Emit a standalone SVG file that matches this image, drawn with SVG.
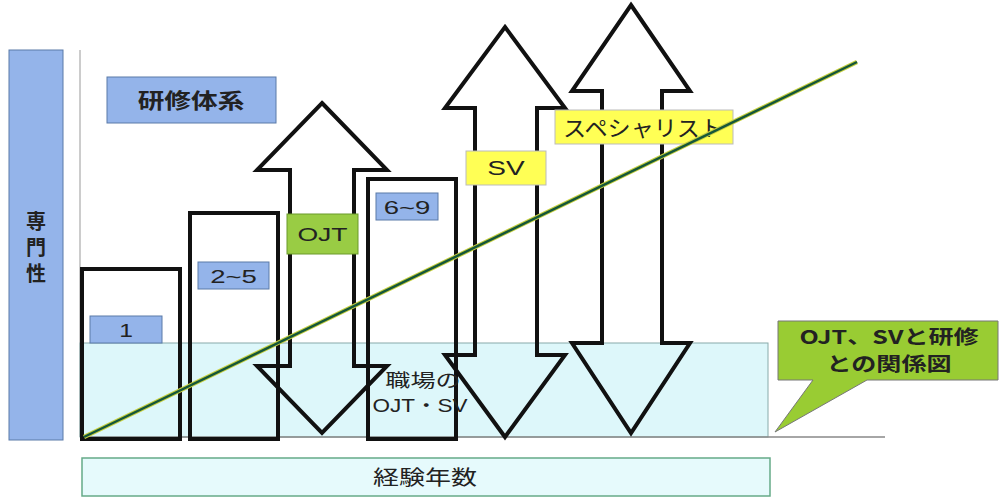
<svg xmlns="http://www.w3.org/2000/svg" width="999" height="499" viewBox="0 0 999 499">
<style>
.blue{fill:#94b4ea;stroke:#5a7aa8;stroke-width:1}
.frame{fill:none;stroke:#111;stroke-width:4;stroke-linejoin:miter}
.t{font-family:"Liberation Sans","Noto Sans CJK JP",sans-serif;fill:#222;text-anchor:middle}
.j{font-family:"Noto Sans CJK JP",sans-serif;fill:#222;text-anchor:middle}
</style>
<rect width="999" height="499" fill="#fff"/>
<g id="axis-y">
<rect x="9" y="50" width="54" height="390" class="blue"/>
<text font-family="Noto Sans CJK JP, sans-serif" fill="#222" font-size="20" font-weight="bold" writing-mode="vertical-rl" letter-spacing="6" x="36" y="211">専門性</text>
</g>
<line x1="80" y1="50" x2="80" y2="437" stroke="#999" stroke-width="1"/>
<g id="workplace">
<rect x="80" y="343" width="688" height="94" fill="#ddf7fa" stroke="#8aa" stroke-width="1"/>
<line x1="80" y1="437" x2="885" y2="437" stroke="#888" stroke-width="1.5"/>
</g>
<g id="kenshu">
<rect x="107" y="77" width="169" height="46" class="blue"/>
<text class="j" font-size="21" font-weight="bold" transform="translate(191,108) scale(1.27,1)">研修体系</text>
</g>
<g id="year1">
<rect x="82" y="269" width="98" height="170" class="frame"/>
<rect x="90" y="316" width="72" height="27" class="blue"/>
<text class="t" font-size="19" transform="translate(126,337) scale(1.3,1)">1</text>
</g>
<g id="year2-5">
<rect x="190" y="213" width="88" height="226" class="frame"/>
<rect x="198" y="262" width="71" height="27" class="blue"/>
<text class="t" font-size="19" transform="translate(233.5,283) scale(1.45,1)">2~5</text>
</g>
<g id="year6-9">
<rect x="368" y="179" width="88" height="260" class="frame"/>
<rect x="376" y="193" width="62" height="27" class="blue"/>
<text class="t" font-size="19" transform="translate(407,214) scale(1.45,1)">6~9</text>
</g>
<g id="arrow-ojt">
<path class="frame" d="M322,103 L387,170 L354,170 L354,366 L387,366 L322,433 L257,366 L290,366 L290,170 L257,170 Z"/>
<rect x="287" y="214" width="71" height="40" fill="#99cc44" stroke="#6a9a2a" stroke-width="1"/>
<text class="t" font-size="19" transform="translate(322.5,241) scale(1.4,1)">OJT</text>
</g>
<g id="arrow-sv">
<path class="frame" d="M505,27 L565,108 L537,108 L537,355 L565,355 L505,437 L445,355 L475,355 L475,108 L445,108 Z"/>
<rect x="466" y="151" width="80" height="34" fill="#ffff55" stroke="#bbb" stroke-width="1"/>
<text class="t" font-size="20" transform="translate(506,175) scale(1.4,1)">SV</text>
</g>
<g id="arrow-specialist">
<path class="frame" d="M631,5 L690,91 L662,91 L662,343 L690,343 L631,433 L572,343 L602,343 L602,91 L572,91 Z"/>
<rect x="555" y="110" width="178" height="34" fill="#ffff55" stroke="#bbb" stroke-width="1"/>
<text class="j" font-size="22" transform="translate(643,136) scale(1.05,1)">スペシャリスト</text>
</g>
<g id="workplace-label">
<text class="j" font-size="18" transform="translate(423,387) scale(1.4,1)">職場の</text>
<text class="t" font-size="18" transform="translate(420,412) scale(1.25,1)">OJT・SV</text>
</g>
<g id="connectors">
<line x1="84" y1="437" x2="857" y2="62" stroke="#c8d040" stroke-width="4.5"/>
<line x1="84" y1="437" x2="857" y2="62" stroke="#15573a" stroke-width="2.5"/>
</g>
<g id="callout">
<path d="M778,321 L998,321 L998,380 L867,380 L775,432 L813,380 L778,380 Z" fill="#99cc33" stroke="#777" stroke-width="1"/>
<text class="j" font-size="19" font-weight="bold" transform="translate(889,344) scale(1.32,1)">OJT、SVと研修</text>
<text class="j" font-size="19" font-weight="bold" transform="translate(889,371) scale(1.32,1)">との関係図</text>
</g>
<g id="axis-x">
<rect x="82" y="458" width="688" height="38" fill="#e6fafc" stroke="#6a8" stroke-width="1.5"/>
<text class="j" font-size="20" transform="translate(425,485) scale(1.3,1)">経験年数</text>
</g>
</svg>
